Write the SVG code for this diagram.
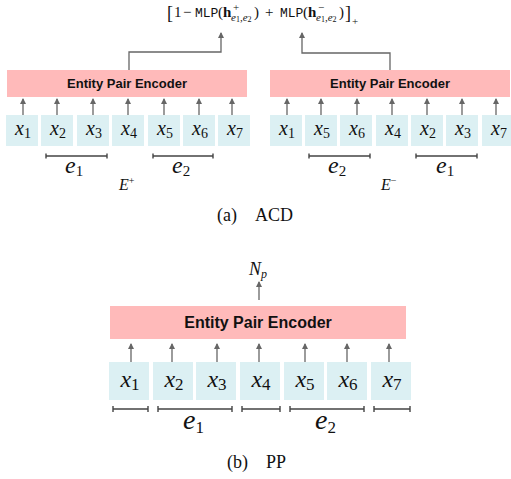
<svg xmlns="http://www.w3.org/2000/svg" width="511" height="479" viewBox="0 0 511 479">
<defs>
<marker id="ah" viewBox="0 0 6 6" refX="5" refY="3" markerWidth="6" markerHeight="6" markerUnits="userSpaceOnUse" orient="auto">
<path d="M0,0 L6,3 L0,6 z" fill="#666"/>
</marker>
<style>
.enc{fill:#ffbaba}
.tok{fill:#dcf0f3}
.enct{font-family:"Liberation Sans",Arial,sans-serif;font-weight:bold;fill:#111;text-anchor:middle}
.m{font-family:"Liberation Serif","Times New Roman",serif;fill:#111}
.mi{font-style:italic}
.tt{font-family:"Liberation Mono","Courier New",monospace}
.arr{stroke:#666;stroke-width:1.3;fill:none;marker-end:url(#ah)}
.br{stroke:#444;stroke-width:1.4;fill:none}
.cap{font-family:"Liberation Serif","Times New Roman",serif;font-size:18px;fill:#111}
.t1 text{font-size:20px;text-anchor:middle}
.t2 text{font-size:24px;text-anchor:middle}
</style>
</defs>
<rect width="511" height="479" fill="#fff"/>

<g id="formula" class="m">
<text x="167" y="19" font-size="18">[</text>
<text x="174" y="17" font-size="15">1</text>
<text x="183" y="17" font-size="15">−</text>
<text class="tt" x="195" y="17" font-size="13">MLP</text>
<text x="218" y="17" font-size="15">(</text>
<text x="223" y="17" font-size="15" font-weight="bold">h</text>
<text x="233" y="11" font-size="11">+</text>
<text x="231" y="21"><tspan class="mi" font-size="11">e</tspan><tspan font-size="8" dy="1">1</tspan><tspan font-size="11" dy="-1">,</tspan><tspan class="mi" font-size="11">e</tspan><tspan font-size="8" dy="1">2</tspan></text>
<text x="254" y="17" font-size="15">)</text>
<text x="265" y="17" font-size="15">+</text>
<text class="tt" x="280" y="17" font-size="13">MLP</text>
<text x="303" y="17" font-size="15">(</text>
<text x="308" y="17" font-size="15" font-weight="bold">h</text>
<text x="318" y="11" font-size="11">−</text>
<text x="316" y="21"><tspan class="mi" font-size="11">e</tspan><tspan font-size="8" dy="1">1</tspan><tspan font-size="11" dy="-1">,</tspan><tspan class="mi" font-size="11">e</tspan><tspan font-size="8" dy="1">2</tspan></text>
<text x="339" y="17" font-size="15">)</text>
<text x="345" y="19" font-size="18">]</text>
<text x="352" y="25" font-size="11">+</text>
</g>

<g id="connectors">
<path class="arr" d="M129,70 V52 H221 V33"/>
<path class="arr" d="M390,70 V53 H302 V33"/>
<path class="arr" d="M23,115 V99"/>
<path class="arr" d="M57,115 V99"/>
<path class="arr" d="M93,115 V99"/>
<path class="arr" d="M128,115 V99"/>
<path class="arr" d="M164,115 V99"/>
<path class="arr" d="M199,115 V99"/>
<path class="arr" d="M232,115 V99"/>
<path class="arr" d="M287,115 V99"/>
<path class="arr" d="M321,115 V99"/>
<path class="arr" d="M357,115 V99"/>
<path class="arr" d="M392,115 V99"/>
<path class="arr" d="M427,115 V99"/>
<path class="arr" d="M462,115 V99"/>
<path class="arr" d="M496,115 V99"/>
<path class="arr" d="M259,300 V282"/>
<path class="arr" d="M131,362 V344"/>
<path class="arr" d="M172,362 V344"/>
<path class="arr" d="M217,362 V344"/>
<path class="arr" d="M259,362 V344"/>
<path class="arr" d="M305,362 V344"/>
<path class="arr" d="M347,362 V344"/>
<path class="arr" d="M389,362 V344"/>
</g>

<g id="encoder-pos">
<rect class="enc" x="7" y="70" width="240" height="27"/>
<text class="enct" x="127" y="88" font-size="13">Entity Pair Encoder</text>
</g>
<g id="encoder-neg">
<rect class="enc" x="270" y="70" width="240" height="27"/>
<text class="enct" x="390" y="88" font-size="13">Entity Pair Encoder</text>
</g>

<g id="tokens-pos" class="m t1">
<rect class="tok" x="6" y="115" width="32" height="31"/>
<rect class="tok" x="41" y="115" width="32" height="31"/>
<rect class="tok" x="77" y="115" width="32" height="31"/>
<rect class="tok" x="112" y="115" width="32" height="31"/>
<rect class="tok" x="148" y="115" width="32" height="31"/>
<rect class="tok" x="183" y="115" width="32" height="31"/>
<rect class="tok" x="218" y="115" width="32" height="31"/>
<text x="23" y="135"><tspan class="mi">x</tspan><tspan font-size="14" dy="3">1</tspan></text>
<text x="58" y="135"><tspan class="mi">x</tspan><tspan font-size="14" dy="3">2</tspan></text>
<text x="94" y="135"><tspan class="mi">x</tspan><tspan font-size="14" dy="3">3</tspan></text>
<text x="129" y="135"><tspan class="mi">x</tspan><tspan font-size="14" dy="3">4</tspan></text>
<text x="165" y="135"><tspan class="mi">x</tspan><tspan font-size="14" dy="3">5</tspan></text>
<text x="200" y="135"><tspan class="mi">x</tspan><tspan font-size="14" dy="3">6</tspan></text>
<text x="235" y="135"><tspan class="mi">x</tspan><tspan font-size="14" dy="3">7</tspan></text>
</g>

<g id="tokens-neg" class="m t1">
<rect class="tok" x="270" y="115" width="32" height="31"/>
<rect class="tok" x="305" y="115" width="32" height="31"/>
<rect class="tok" x="340" y="115" width="32" height="31"/>
<rect class="tok" x="376" y="115" width="32" height="31"/>
<rect class="tok" x="411" y="115" width="32" height="31"/>
<rect class="tok" x="446" y="115" width="32" height="31"/>
<rect class="tok" x="482" y="115" width="32" height="31"/>
<text x="287" y="135"><tspan class="mi">x</tspan><tspan font-size="14" dy="3">1</tspan></text>
<text x="322" y="135"><tspan class="mi">x</tspan><tspan font-size="14" dy="3">5</tspan></text>
<text x="357" y="135"><tspan class="mi">x</tspan><tspan font-size="14" dy="3">6</tspan></text>
<text x="393" y="135"><tspan class="mi">x</tspan><tspan font-size="14" dy="3">4</tspan></text>
<text x="428" y="135"><tspan class="mi">x</tspan><tspan font-size="14" dy="3">2</tspan></text>
<text x="463" y="135"><tspan class="mi">x</tspan><tspan font-size="14" dy="3">3</tspan></text>
<text x="499" y="135"><tspan class="mi">x</tspan><tspan font-size="14" dy="3">7</tspan></text>
</g>

<g id="spans-pos" class="m">
<path class="br" d="M46,156 H107 M46,153.5 V158.5 M107,153.5 V158.5"/>
<path class="br" d="M153,156 H213 M153,153.5 V158.5 M213,153.5 V158.5"/>
<text x="65" y="173" font-size="24"><tspan class="mi">e</tspan><tspan font-size="15" dy="3">1</tspan></text>
<text x="172" y="173" font-size="24"><tspan class="mi">e</tspan><tspan font-size="15" dy="3">2</tspan></text>
<text x="119" y="190" font-size="16"><tspan class="mi">E</tspan><tspan font-size="10" dy="-6">+</tspan></text>
</g>

<g id="spans-neg" class="m">
<path class="br" d="M309,156 H370 M309,153.5 V158.5 M370,153.5 V158.5"/>
<path class="br" d="M416,156 H477 M416,153.5 V158.5 M477,153.5 V158.5"/>
<text x="328" y="173" font-size="24"><tspan class="mi">e</tspan><tspan font-size="15" dy="3">2</tspan></text>
<text x="436" y="173" font-size="24"><tspan class="mi">e</tspan><tspan font-size="15" dy="3">1</tspan></text>
<text x="381" y="190" font-size="16"><tspan class="mi">E</tspan><tspan font-size="10" dy="-6">−</tspan></text>
</g>

<text class="cap" x="217" y="221">(a)</text>
<text class="cap" x="255" y="221">ACD</text>

<g id="np" class="m">
<text x="249" y="275" font-size="18"><tspan class="mi">N</tspan><tspan class="mi" font-size="12" dy="3">p</tspan></text>
</g>

<g id="encoder-pp">
<rect class="enc" x="110" y="306" width="296" height="33"/>
<text class="enct" x="258" y="328" font-size="16">Entity Pair Encoder</text>
</g>

<g id="tokens-pp" class="m t2">
<rect class="tok" x="109" y="362" width="40" height="38"/>
<rect class="tok" x="153" y="362" width="40" height="38"/>
<rect class="tok" x="196" y="362" width="40" height="38"/>
<rect class="tok" x="240" y="362" width="40" height="38"/>
<rect class="tok" x="284" y="362" width="40" height="38"/>
<rect class="tok" x="327" y="362" width="40" height="38"/>
<rect class="tok" x="371" y="362" width="40" height="38"/>
<text x="130" y="387"><tspan class="mi">x</tspan><tspan font-size="17" dy="3">1</tspan></text>
<text x="174" y="387"><tspan class="mi">x</tspan><tspan font-size="17" dy="3">2</tspan></text>
<text x="217" y="387"><tspan class="mi">x</tspan><tspan font-size="17" dy="3">3</tspan></text>
<text x="261" y="387"><tspan class="mi">x</tspan><tspan font-size="17" dy="3">4</tspan></text>
<text x="305" y="387"><tspan class="mi">x</tspan><tspan font-size="17" dy="3">5</tspan></text>
<text x="348" y="387"><tspan class="mi">x</tspan><tspan font-size="17" dy="3">6</tspan></text>
<text x="392" y="387"><tspan class="mi">x</tspan><tspan font-size="17" dy="3">7</tspan></text>
</g>

<g id="spans-pp" class="m">
<path class="br" d="M113,409 H148 M113,406 V412 M148,406 V412"/>
<path class="br" d="M158,409 H232 M158,406 V412 M232,406 V412"/>
<path class="br" d="M242,409 H280 M242,406 V412 M280,406 V412"/>
<path class="br" d="M290,409 H364 M290,406 V412 M364,406 V412"/>
<path class="br" d="M374,409 H410 M374,406 V412 M410,406 V412"/>
<text x="183" y="429" font-size="28"><tspan class="mi">e</tspan><tspan font-size="17" dy="4">1</tspan></text>
<text x="315" y="429" font-size="28"><tspan class="mi">e</tspan><tspan font-size="17" dy="4">2</tspan></text>
</g>

<text class="cap" x="227" y="468">(b)</text>
<text class="cap" x="266" y="468">PP</text>
</svg>
